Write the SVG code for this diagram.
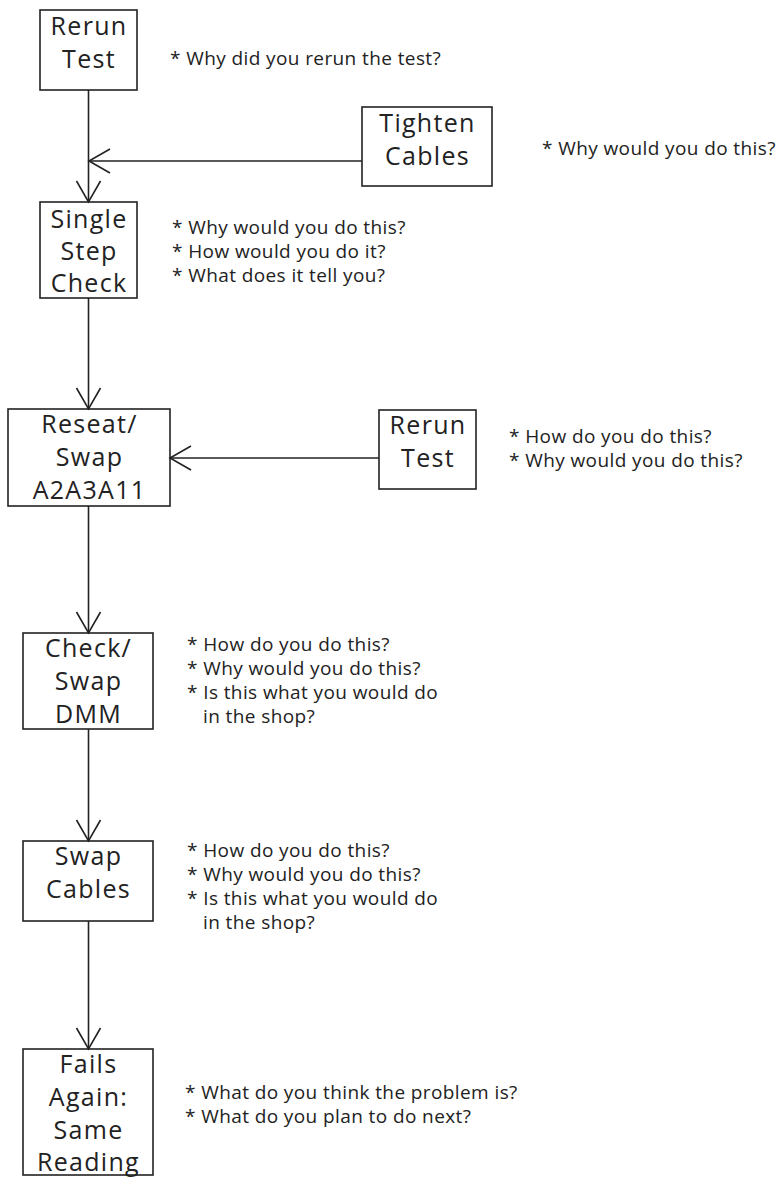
<svg xmlns="http://www.w3.org/2000/svg" width="781" height="1177" viewBox="0 0 781 1177">
<style>
.box{fill:none;stroke:#222;stroke-width:1.6}
.lbl{font-family:"Open Sans","Noto Sans",sans-serif;font-size:25px;letter-spacing:1.3px;fill:#222;text-anchor:middle}
.q{font-family:"Open Sans","Noto Sans",sans-serif;font-size:19px;letter-spacing:0.4px;fill:#222}
.edge{fill:none;stroke:#222;stroke-width:1.6}
</style>
<defs>
<marker id="arr" markerUnits="userSpaceOnUse" viewBox="-23 -14 25 28" refX="0" refY="0" markerWidth="25" markerHeight="28" orient="auto" overflow="visible">
<path d="M-21,-12 L0,0 L-21,12" fill="none" stroke="#222" stroke-width="1.6"/>
</marker>
</defs>
<rect width="781" height="1177" fill="#fff"/>
<g id="connectors">
<line class="edge" x1="88.5" y1="90" x2="88.5" y2="202" marker-end="url(#arr)"/>
<line class="edge" x1="362" y1="161" x2="89" y2="161" marker-end="url(#arr)"/>
<line class="edge" x1="88.5" y1="298" x2="88.5" y2="409" marker-end="url(#arr)"/>
<line class="edge" x1="379" y1="458" x2="170" y2="458" marker-end="url(#arr)"/>
<line class="edge" x1="88.5" y1="506" x2="88.5" y2="633" marker-end="url(#arr)"/>
<line class="edge" x1="88.5" y1="729" x2="88.5" y2="841" marker-end="url(#arr)"/>
<line class="edge" x1="88.5" y1="921" x2="88.5" y2="1049" marker-end="url(#arr)"/>
</g>
<g id="rerun1">
<rect class="box" x="40" y="10" width="97" height="80"/>
<text class="lbl" x="89" y="35">Rerun</text>
<text class="lbl" x="89" y="68">Test</text>
<text class="q" x="170" y="65">* Why did you rerun the test?</text>
</g>
<g id="tighten">
<rect class="box" x="362" y="107" width="130" height="79"/>
<text class="lbl" x="427.5" y="132">Tighten</text>
<text class="lbl" x="427.5" y="165">Cables</text>
<text class="q" x="542" y="155">* Why would you do this?</text>
</g>
<g id="singlestep">
<rect class="box" x="40" y="202" width="97" height="96"/>
<text class="lbl" x="89" y="228">Single</text>
<text class="lbl" x="89" y="260">Step</text>
<text class="lbl" x="89" y="292">Check</text>
<text class="q" x="172" y="234">* Why would you do this?</text>
<text class="q" x="172" y="258">* How would you do it?</text>
<text class="q" x="172" y="282">* What does it tell you?</text>
</g>
<g id="reseat">
<rect class="box" x="8" y="409" width="162" height="97"/>
<text class="lbl" x="89.5" y="433">Reseat/</text>
<text class="lbl" x="89.5" y="466">Swap</text>
<text class="lbl" x="89.5" y="499">A2A3A11</text>
</g>
<g id="rerun2">
<rect class="box" x="379" y="410" width="97" height="79"/>
<text class="lbl" x="428" y="434">Rerun</text>
<text class="lbl" x="428" y="467">Test</text>
<text class="q" x="509" y="443">* How do you do this?</text>
<text class="q" x="509" y="467">* Why would you do this?</text>
</g>
<g id="checkdmm">
<rect class="box" x="23" y="633" width="130" height="96"/>
<text class="lbl" x="88.5" y="657">Check/</text>
<text class="lbl" x="88.5" y="690">Swap</text>
<text class="lbl" x="88.5" y="723">DMM</text>
<text class="q" x="187" y="651">* How do you do this?</text>
<text class="q" x="187" y="675">* Why would you do this?</text>
<text class="q" x="187" y="699">* Is this what you would do</text>
<text class="q" x="203" y="723">in the shop?</text>
</g>
<g id="swapcables">
<rect class="box" x="23" y="841" width="130" height="80"/>
<text class="lbl" x="88.5" y="865">Swap</text>
<text class="lbl" x="88.5" y="898">Cables</text>
<text class="q" x="187" y="857">* How do you do this?</text>
<text class="q" x="187" y="881">* Why would you do this?</text>
<text class="q" x="187" y="905">* Is this what you would do</text>
<text class="q" x="203" y="929">in the shop?</text>
</g>
<g id="fails">
<rect class="box" x="23" y="1049" width="130" height="126"/>
<text class="lbl" x="88.5" y="1073">Fails</text>
<text class="lbl" x="88.5" y="1106">Again:</text>
<text class="lbl" x="88.5" y="1139">Same</text>
<text class="lbl" x="88.5" y="1171">Reading</text>
<text class="q" x="185" y="1099">* What do you think the problem is?</text>
<text class="q" x="185" y="1123">* What do you plan to do next?</text>
</g>
</svg>
